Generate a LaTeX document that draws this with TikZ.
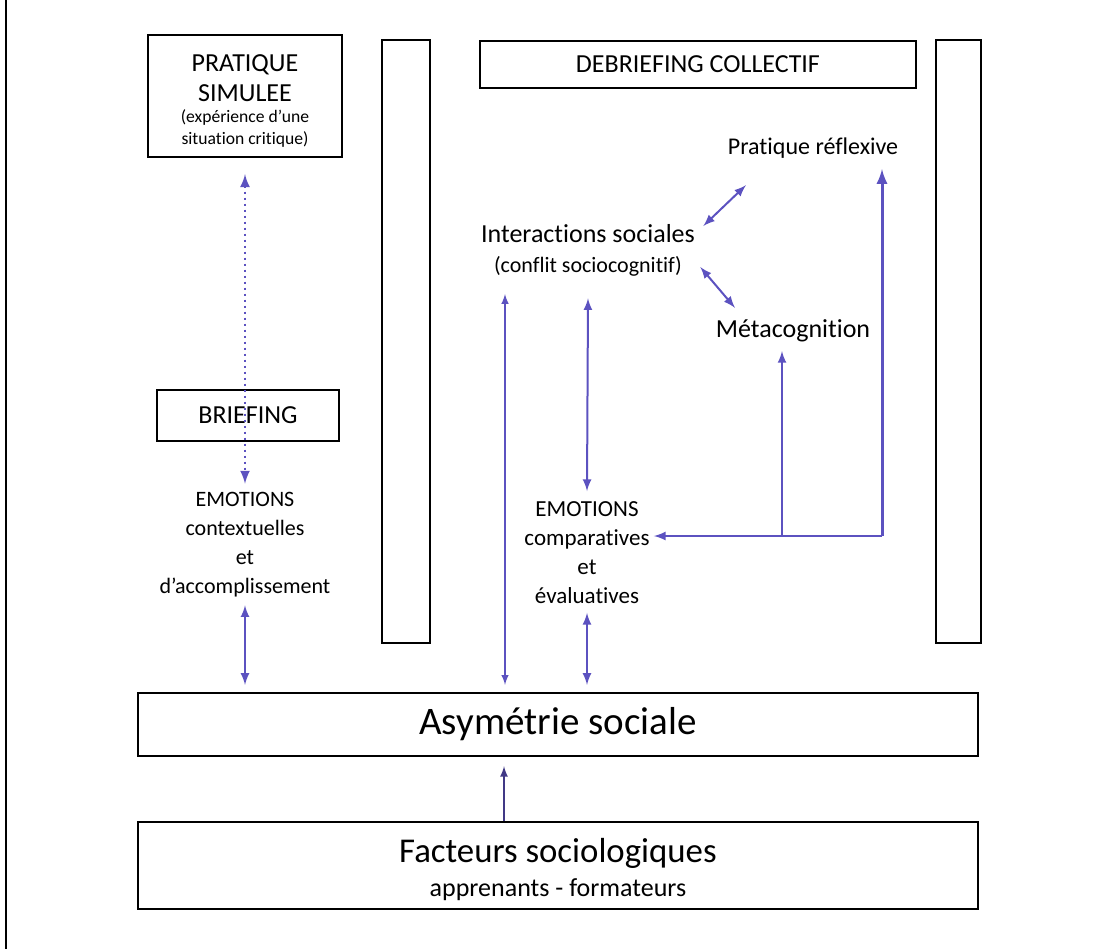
\documentclass[tikz,border=0pt]{standalone}
\usepackage{fontspec}
\setmainfont{Carlito}[Ligatures = NoCommon]
\usepackage{tikz}
\usetikzlibrary{arrows}

\definecolor{fleche}{RGB}{92,82,192}

\tikzset{
    boite/.style = {draw, line width = 1.2pt, inner sep = 0pt, align = center},
    texte/.style = {inner sep = 0pt, align = center,
        font = \fontsize{11}{14.5}\selectfont},
    fl/.style = {fleche, line width = 1pt, >=latex}
}

\begin{document}
\begin{tikzpicture}[x = 0.5pt, y = -0.5pt]
        \useasboundingbox (0, 0) rectangle (1103, 949);
        \draw[line width = 0.6pt] (6, 0) -- (6, 949);

        % boites du haut
        \node[boite, minimum width = 97pt, minimum height = 61pt,
            font = \fontsize{13}{15}\selectfont] (simul) at (245, 96)
            {\rule{0pt}{13.5pt}PRATIQUE\\SIMULEE\\[-4.5pt]\fontsize{8.8}{11}\selectfont (expérience d’une\\[-4pt]\fontsize{8.8}{11}\selectfont situation critique)};
        \node[boite, minimum width = 218pt, minimum height = 23.5pt,
            font = \fontsize{13}{15}\selectfont] (debrief) at (698, 64.5) {DEBRIEFING COLLECTIF};
        \node[boite, minimum width = 91pt, minimum height = 25.5pt,
            font = \fontsize{13}{15}\selectfont] (brief) at (248, 415.5) {BRIEFING};

        \draw[line width = 1.2pt] (382, 40) rectangle (430, 643);
        \draw[line width = 1.2pt] (936, 40) rectangle (981, 643);

        % boites du bas
        \node[boite, minimum width = 420pt, minimum height = 31.5pt,
            font = \fontsize{19.5}{22}\selectfont] (asym) at (558, 724.5) {Asymétrie sociale};
        \node[boite, minimum width = 420pt, minimum height = 43.5pt,
            font = \fontsize{17.4}{20}\selectfont] (facteurs) at (558, 865.5)
            {\rule{0pt}{16pt}Facteurs sociologiques\\[-3pt]\fontsize{13}{17}\selectfont apprenants - formateurs};

        % textes
        \node[texte] (emoctx) at (245, 544.5) {EMOTIONS\\contextuelles\\et\\d’accomplissement};
        \node[texte, font = \fontsize{11.5}{14.5}\selectfont] (emocmp) at (587, 552.5)
            {EMOTIONS\\comparatives\\et\\évaluatives};
        \node[texte, font = \fontsize{13}{15}\selectfont] (inter) at (588, 250)
            {Interactions sociales\\\fontsize{11}{15}\selectfont (conflit sociocognitif)};
        \node[texte, font = \fontsize{12}{14}\selectfont] (reflex) at (813, 148) {Pratique réflexive};
        \node[texte, font = \fontsize{13}{15}\selectfont] (meta) at (793, 331) {Métacognition};

        \coordinate (gauche) at (505, 294);
        \coordinate (coin) at (882, 536);
        \coordinate (branche) at (782, 536);

        % fleches
        \draw[fl, <->, dotted, line width = 1.2pt] ([yshift = -8pt]simul.south) -- ([yshift = 4pt]emoctx.north);
        \draw[fl, <->] ([yshift = -4pt]emoctx.south) -- ([yshift = 3.5pt]emoctx.south |- asym.north);
        \draw[fl, <->, line width = 0.7pt] (gauche) -- ([yshift = 3.5pt]gauche |- asym.north);
        \draw[fl, <->] ([yshift = -11pt]inter.south) -- ([yshift = 5pt]emocmp.north);
        \draw[fl, <->] ([yshift = -4.5pt]emocmp.south) -- ([yshift = 3.5pt]emocmp.south |- asym.north);
        \draw[fl, <->] ([xshift = 4pt, yshift = 12pt]inter.east) -- ([xshift = 9.25pt, yshift = -13.25pt]reflex.south west);
        \draw[fl, <->] ([xshift = 2.5pt, yshift = -8.5pt]inter.east) -- ([xshift = 9.75pt, yshift = 5.8pt]meta.north west);

        \draw[fl, ->, line width = 1.5pt] (coin) -- ([yshift = -5.25pt]reflex.south -| coin);
        \draw[fl, ->] (coin) -- ([xshift = 2pt]coin -| emocmp.east);
        \draw[fl, ->] (branche) -- ([yshift = -4.25pt]branche |- meta.south);

        \draw[fl, ->, fleche!70!black, line width = 0.8pt] ([xshift = -27pt]facteurs.north) -- ([xshift = -27pt, yshift = -4.5pt]asym.south);
    \end{tikzpicture}
\end{document}
